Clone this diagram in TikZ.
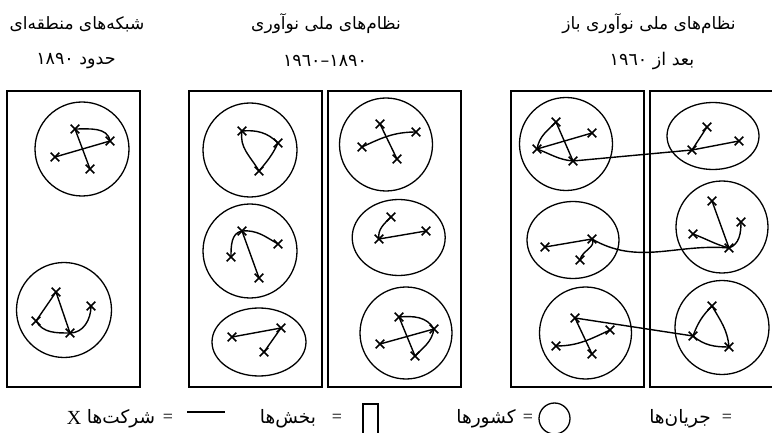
\documentclass[tikz,border=0pt]{standalone}
\usepackage{fontspec}
\usetikzlibrary{shapes.geometric,shapes.misc}
\newfontfamily\arabicfont[Script=Arabic]{DejaVu Sans}
\newfontfamily\latinserif{Liberation Serif}
\TeXXeTstate=1
\begin{document}
\begin{tikzpicture}[x=1pt,y=-1pt,
  firm/.style={draw,cross out,minimum size=7pt,inner sep=0pt,line width=1.6pt},
  country/.style={draw,circle,inner sep=0pt,line width=1.3pt,minimum size=#1},
  nation/.style={draw,ellipse,inner sep=0pt,line width=1.3pt},
  sectorbox/.style={draw,line width=1.3pt},
  link/.style={line width=1.4pt},
  titletext/.style={font=\arabicfont\fontsize{17}{19}\selectfont,inner sep=0pt},
  datetext/.style={font=\arabicfont\fontsize{17.5}{19}\selectfont,inner sep=0pt},
  legendtext/.style={font=\arabicfont\fontsize{18.5}{20}\selectfont,inner sep=0pt},
  eqsign/.style={font=\latinserif\fontsize{18}{20}\selectfont,inner sep=0pt}
]
\useasboundingbox (0,0) rectangle (772,433);

% titles
\node[titletext] (t1) at (77,24) {\beginR شبکه‌های منطقه‌ای\endR};
\node[datetext] (d1) at (76,61) {١٨٩٠ \beginR حدود\endR};
\node[titletext] (t2) at (326,24) {\beginR نظام‌های ملی نوآوری\endR};
\node[datetext] (d2) at (325,61) {١٨٩٠–١٩٦٠};
\node[titletext] (t3) at (649,24) {\beginR نظام‌های ملی نوآوری باز\endR};
\node[datetext] (d3) at (652,61) {١٩٦٠ \beginR بعد از\endR};

% sector boxes
\draw[sectorbox] (7,91) rectangle (140,387);
\draw[sectorbox] (189,91) rectangle (322,387);
\draw[sectorbox] (328,91) rectangle (461,387);
\draw[sectorbox] (511,91) rectangle (644,387);
\draw[sectorbox] (650,91) rectangle (790,387);

% countries
\node[country=94pt] (c11) at (82,149) {};
\node[country=95pt] (c12) at (64,310) {};
\node[country=94pt] (c21) at (250,150) {};
\node[country=94pt] (c22) at (250,251) {};
\node[nation,minimum width=94pt,minimum height=68pt] (c23) at (259,342) {};
\node[country=93pt] (c31) at (386,144.5) {};
\node[nation,minimum width=93pt,minimum height=76pt] (c32) at (398.7,237.5) {};
\node[country=92pt] (c33) at (406,333) {};
\node[country=93pt] (c41) at (566,144) {};
\node[nation,minimum width=92pt,minimum height=77pt] (c42) at (573,240) {};
\node[country=92pt] (c43) at (585.5,333) {};
\node[nation,minimum width=92pt,minimum height=67pt] (c51) at (713,136) {};
\node[country=92pt] (c52) at (722,227) {};
\node[country=94pt] (c53) at (722,327.5) {};

% box 1, country 1
\node[firm] (a11a) at (75,129) {};
\node[firm] (a11b) at (110,141) {};
\node[firm] (a11c) at (55,157) {};
\node[firm] (a11d) at (90,169) {};
\draw[link] (a11c.center) -- (a11b.center);
\draw[link] (a11a.center) -- (a11d.center);
\draw[link] (a11a.center) to[out=0,in=100] (a11b.center);
% box 1, country 2
\node[firm] (a12a) at (56,292) {};
\node[firm] (a12b) at (36,321) {};
\node[firm] (a12c) at (70,333) {};
\node[firm] (a12d) at (91,306) {};
\draw[link] (a12a.center) -- (a12b.center);
\draw[link] (a12a.center) -- (a12c.center);
\draw[link] (a12b.center) to[out=-60,in=180] (a12c.center);
\draw[link] (a12c.center) to[out=0,in=-90] (a12d.center);

% box 2
\node[firm] (a21a) at (242,131) {};
\node[firm] (a21b) at (278,143) {};
\node[firm] (a21c) at (259,171) {};
\draw[link] (a21a.center) to[out=5,in=135] (a21b.center);
\draw[link] (a21b.center) to[out=-115,in=50] (a21c.center);
\draw[link] (a21a.center) to[out=-100,in=120] (a21c.center);

\node[firm] (a22a) at (242,231) {};
\node[firm] (a22b) at (278,244) {};
\node[firm] (a22c) at (231,257) {};
\node[firm] (a22d) at (259,278) {};
\draw[link] (a22a.center) -- (a22d.center);
\draw[link] (a22a.center) to[out=5,in=150] (a22b.center);
\draw[link] (a22a.center) to[out=190,in=90] (a22c.center);

\node[firm] (a23a) at (232,337) {};
\node[firm] (a23b) at (281,328) {};
\node[firm] (a23c) at (264,352) {};
\draw[link] (a23a.center) -- (a23b.center);
\draw[link] (a23b.center) -- (a23c.center);

% box 3
\node[firm] (a31a) at (380,124) {};
\node[firm] (a31b) at (416,132) {};
\node[firm] (a31c) at (362,147) {};
\node[firm] (a31d) at (397,159) {};
\draw[link] (a31a.center) -- (a31d.center);
\draw[link] (a31c.center) to[out=25,in=180] (a31b.center);

\node[firm] (a32a) at (391,217) {};
\node[firm] (a32b) at (426,231) {};
\node[firm] (a32c) at (379,239) {};
\draw[link] (a32c.center) -- (a32b.center);
\draw[link] (a32c.center) to[out=100,in=-135] (a32a.center);

\node[firm] (a33a) at (399,317) {};
\node[firm] (a33b) at (434,329) {};
\node[firm] (a33c) at (380,344) {};
\node[firm] (a33d) at (415,356) {};
\draw[link] (a33c.center) -- (a33b.center);
\draw[link] (a33a.center) -- (a33d.center);
\draw[link] (a33a.center) to[out=5,in=120] (a33b.center);
\draw[link] (a33b.center) to[out=-100,in=45] (a33d.center);

% box 4
\node[firm] (a41a) at (556,122) {};
\node[firm] (a41b) at (592,133) {};
\node[firm] (a41c) at (537,149) {};
\node[firm] (a41d) at (573,161) {};
\draw[link] (a41c.center) -- (a41b.center);
\draw[link] (a41a.center) -- (a41d.center);
\draw[link] (a41a.center) to[out=-135,in=80] (a41c.center);
\draw[link] (a41c.center) to[out=-20,in=175] (a41d.center);

\node[firm] (a42a) at (545,247) {};
\node[firm] (a42b) at (592,239) {};
\node[firm] (a42c) at (580,260) {};
\draw[link] (a42a.center) -- (a42b.center);
\draw[link] (a42b.center) to[out=-60,in=80] (a42c.center);

\node[firm] (a43a) at (575,318) {};
\node[firm] (a43b) at (610,330) {};
\node[firm] (a43c) at (556,346) {};
\node[firm] (a43d) at (592,354) {};
\draw[link] (a43a.center) -- (a43d.center);
\draw[link] (a43c.center) to[out=0,in=-155] (a43b.center);

% box 5
\node[firm] (a51a) at (707,127) {};
\node[firm] (a51b) at (739,141) {};
\node[firm] (a51c) at (692,150) {};
\draw[link] (a51c.center) -- (a51a.center);
\draw[link] (a51c.center) -- (a51b.center);

\node[firm] (a52a) at (712,201) {};
\node[firm] (a52b) at (741,222) {};
\node[firm] (a52c) at (693,234) {};
\node[firm] (a52d) at (729,248) {};
\draw[link] (a52a.center) -- (a52d.center);
\draw[link] (a52c.center) to[out=-20,in=165] (a52d.center);
\draw[link] (a52d.center) to[out=20,in=-90] (a52b.center);

\node[firm] (a53a) at (712,306) {};
\node[firm] (a53b) at (693,336) {};
\node[firm] (a53c) at (729,347) {};
\draw[link] (a53a.center) to[out=-135,in=70] (a53b.center);
\draw[link] (a53b.center) to[out=-40,in=180] (a53c.center);
\draw[link] (a53a.center) to[out=-60,in=95] (a53c.center);

% flows between countries
\draw[link] (a41d.center) -- (a51c.center);
\draw[link] (a42b.center) to[out=-30,in=175] (a52d.center);
\draw[link] (a43a.center) -- (a53b.center);

% legend
\node[font=\latinserif\fontsize{20}{20}\selectfont,inner sep=0pt] (lx) at (74,418) {X};
\node[legendtext] (l1) at (121,419) {\beginR شرکت‌ها\endR};
\node[eqsign] (e1) at (168,418) {=};
\coordinate (ls) at (187,412);
\coordinate (le) at (225,412);
\draw[link] (ls) -- (le);
\node[legendtext] (l2) at (288,419) {\beginR بخش‌ها\endR};
\node[eqsign] (e2) at (337,418) {=};
\draw[link] (363,404) rectangle (378,445);
\node[legendtext] (l3) at (486,419) {\beginR کشورها\endR};
\node[eqsign] (e3) at (528,418) {=};
\node[country=31pt] (lc) at (554.5,418.5) {};
\node[legendtext] (l4) at (680,419) {\beginR جریان‌ها\endR};
\node[eqsign] (e4) at (727,418) {=};
\end{tikzpicture}
\end{document}
